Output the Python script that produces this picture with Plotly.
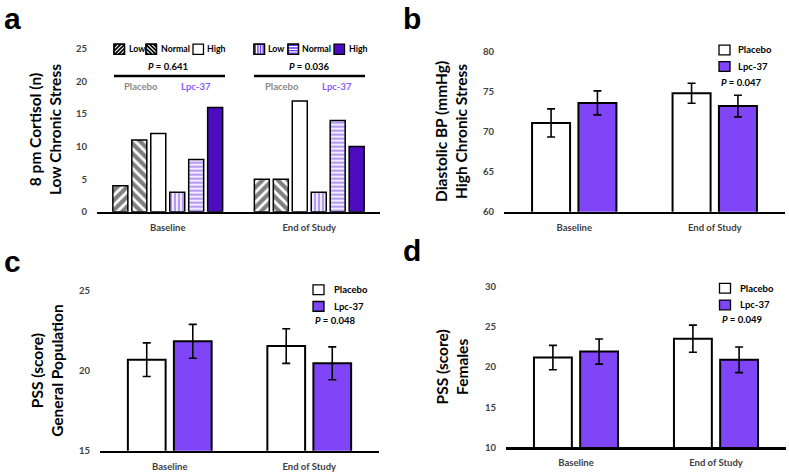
import plotly.graph_objects as go

W, H = 789, 475

categories = ["Baseline", "End of Study"]

# Panel a: 8 pm cortisol (n), low chronic stress
a_levels = ["Low", "Normal", "High"]
a_placebo_low = [4, 5]
a_placebo_normal = [11, 5]
a_placebo_high = [12, 17]
a_lpc_low = [3, 3]
a_lpc_normal = [8, 14]
a_lpc_high = [16, 10]
a_pvalues = ["0.641", "0.036"]
a_yticks = [0, 5, 10, 15, 20, 25]

# Panel b: diastolic BP (mmHg), high chronic stress
b_placebo = [71.1, 74.8]
b_placebo_err = [1.75, 1.25]
b_lpc = [73.6, 73.2]
b_lpc_err = [1.5, 1.35]
b_p = "0.047"
b_yticks = [60, 65, 70, 75, 80]

# Panel c: PSS (score), general population
c_placebo = [20.7, 21.55]
c_placebo_err = [1.05, 1.08]
c_lpc = [21.85, 20.47]
c_lpc_err = [1.06, 1.03]
c_p = "0.048"
c_yticks = [15, 20, 25]

# Panel d: PSS (score), females
d_placebo = [21.2, 23.55]
d_placebo_err = [1.52, 1.7]
d_lpc = [21.95, 20.92]
d_lpc_err = [1.57, 1.6]
d_p = "0.049"
d_yticks = [10, 15, 20, 25, 30]

FONT = "Lato"
PURPLE = "#7F45F7"
DARK_PURPLE = "#4B0DBF"
STRIPE = "#6A34EE"
TICK_COL = "#404040"


def px(x):
    return x / W


def py(y):
    return 1 - y / H


fig = go.Figure()

# ---------------- panel a bars ----------------
a_series = [
    ("Placebo Low", a_placebo_low, dict(color="white", pattern=dict(shape="/", fgcolor="black", bgcolor="white", size=7, solidity=0.6))),
    ("Placebo Normal", a_placebo_normal, dict(color="white", pattern=dict(shape="\\", fgcolor="black", bgcolor="white", size=7, solidity=0.6))),
    ("Placebo High", a_placebo_high, dict(color="white")),
    ("Lpc-37 Low", a_lpc_low, dict(color="white", pattern=dict(shape="|", fgcolor=STRIPE, bgcolor="white", size=4, solidity=0.6))),
    ("Lpc-37 Normal", a_lpc_normal, dict(color="white", pattern=dict(shape="-", fgcolor=STRIPE, bgcolor="white", size=4, solidity=0.6))),
    ("Lpc-37 High", a_lpc_high, dict(color=DARK_PURPLE)),
]
a_width = 0.106
a_step = 0.134
for i, (name, vals, mk) in enumerate(a_series):
    mk = dict(mk)
    mk["line"] = dict(color="black", width=1.5)
    fig.add_trace(go.Bar(
        x=categories, y=vals, name=name, marker=mk,
        width=a_width, offset=(i - 2.5) * a_step - a_width / 2,
        xaxis="x", yaxis="y", showlegend=False,
    ))

# ---------------- panels b, c, d ----------------
panels = [
    ("x2", "y2", b_placebo, b_placebo_err, b_lpc, b_lpc_err),
    ("x3", "y3", c_placebo, c_placebo_err, c_lpc, c_lpc_err),
    ("x4", "y4", d_placebo, d_placebo_err, d_lpc, d_lpc_err),
]
for xa, ya, pv, pe, lv, le in panels:
    fig.add_trace(go.Bar(
        x=categories, y=pv, name="Placebo", xaxis=xa, yaxis=ya, showlegend=False,
        marker=dict(color="white", line=dict(color="black", width=2)),
        error_y=dict(type="data", array=pe, color="black", thickness=1.6, width=4),
    ))
    fig.add_trace(go.Bar(
        x=categories, y=lv, name="Lpc-37", xaxis=xa, yaxis=ya, showlegend=False,
        marker=dict(color=PURPLE, line=dict(color="black", width=2)),
        error_y=dict(type="data", array=le, color="black", thickness=1.6, width=4),
    ))

# ---------------- axes ----------------
dom = {
    "a": ([97, 380], [43.7, 210.7], [0, 25], a_yticks),
    "b": ([504, 785], [46.7, 210.7], [60, 80], b_yticks),
    "c": ([100, 379], [291.7, 455.3], [15, 25], c_yticks),
    "d": ([506, 786], [287.7, 451.7], [10, 30], d_yticks),
}
tickfont = dict(family=FONT, size=9.5, color=TICK_COL, weight="bold")
layout_axes = {}
for k, (name, (xd, yd, yr, yt)) in enumerate(dom.items()):
    sfx = "" if k == 0 else str(k + 1)
    layout_axes["xaxis" + sfx] = dict(
        domain=[px(xd[0]), px(xd[1])], anchor="y" + sfx, type="category",
        range=[-0.5, 1.5], showline=True, linecolor="black", linewidth=2.5,
        ticks="", showgrid=False, zeroline=False, tickfont=tickfont,
        ticklabelstandoff=5, fixedrange=True,
    )
    layout_axes["yaxis" + sfx] = dict(
        domain=[py(yd[1]), py(yd[0])], anchor="x" + sfx, range=yr,
        tickvals=yt, showline=False, showgrid=False, zeroline=False,
        ticks="", tickfont=tickfont, ticklabelstandoff=9, fixedrange=True,
    )

annotations = []
shapes = []


def text(x, y, t, size=9.5, color="black", xanchor="center", weight="bold", family=FONT, angle=0):
    annotations.append(dict(
        x=px(x), y=py(y), xref="paper", yref="paper", text=t, showarrow=False,
        xanchor=xanchor, yanchor="middle", textangle=angle,
        font=dict(family=family, size=size, color=color, weight=weight),
    ))


# panel letters
for letter, x, y in [("a", 2, 13), ("b", 401, 13), ("c", 2, 262), ("d", 401, 250)]:
    text(x, y, letter, size=30, xanchor="left", family="Liberation Sans")

# y-axis titles
TS = 15.5
text(45, 127, "8 pm Cortisol (n)<br>Low Chronic Stress", size=TS, angle=-90)
text(451, 129, "Diastolic BP (mmHg)<br>High Chronic Stress", size=TS, angle=-90)
text(47, 373.5, "PSS (score)<br>General Population", size=TS, angle=-90)
text(452, 370, "PSS (score)<br>Females", size=TS, angle=-90)


# ---- legend swatches helpers ----
def rect(x0, y0, x1, y1, fill, line="black", lw=1.3):
    shapes.append(dict(type="rect", xref="paper", yref="paper",
                       x0=px(x0), x1=px(x1), y0=py(y1), y1=py(y0),
                       fillcolor=fill, line=dict(color=line, width=lw)))


def hatch(x0, y0, x1, y1, kind, color, lw, step):
    S = x1 - x0
    segs = []
    if kind in "/\\":
        c = -S + step / 2
        while c < S:
            if kind == "/":
                u0, u1 = max(0, -c), min(S, S - c)
                pts = [(u0, u0 + c), (u1, u1 + c)]
            else:
                cc = c + S
                u0, u1 = max(0, cc - S), min(S, cc)
                pts = [(u0, cc - u0), (u1, cc - u1)]
            segs.append(pts)
            c += step
    else:
        k = step / 2
        while k < S:
            if kind == "|":
                segs.append([(k, 0), (k, S)])
            else:
                segs.append([(0, k), (S, k)])
            k += step
    path = ""
    for (ua, va), (ub, vb) in segs:
        path += "M{:.5f},{:.5f}L{:.5f},{:.5f}".format(px(x0 + ua), py(y1 - va), px(x0 + ub), py(y1 - vb))
    shapes.append(dict(type="path", xref="paper", yref="paper", path=path,
                       line=dict(color=color, width=lw)))


# panel a legend rows
row_y0, row_y1 = 39, 49.5
groups_a = [
    ([114, 146, 193], [126.5, 158.5, 205], ["/", "\\", None], "black", ["white", "white", "white"]),
    ([254, 288, 334], [265.5, 299.5, 346.5], ["|", "-", None], STRIPE, ["white", "white", DARK_PURPLE]),
]
for sx, tx, kinds, hcol, fills in groups_a:
    for j in range(3):
        x0 = sx[j]
        x1 = x0 + 10.5
        rect(x0, row_y0, x1, row_y1, fills[j])
        if kinds[j]:
            step = 4 if kinds[j] in "/\\" else 2.6
            lw = 1.7 if kinds[j] in "/\\" else 1.3
            hatch(x0, row_y0, x1, row_y1, kinds[j], hcol, lw, step)
            rect(x0, row_y0, x1, row_y1, "rgba(0,0,0,0)")
        text(tx[j], 44, a_levels[j], size=8.8, xanchor="left")

# panel a P-values, bracket lines, group labels
for cx, x0, x1, pl, lc, p in [(168, 114, 225, 141, 195.5, a_pvalues[0]),
                              (309, 254, 365, 282, 337, a_pvalues[1])]:
    text(cx, 62, "<i>P</i> = " + p)
    shapes.append(dict(type="line", xref="paper", yref="paper",
                       x0=px(x0), x1=px(x1), y0=py(71.7), y1=py(71.7),
                       line=dict(color="black", width=2.5)))
    text(pl, 82, "Placebo", color="#8A8A8A")
    text(lc, 82, "Lpc-37", color="#8B5CF6")

# panels b/c/d legends
for sx, y1, y2, tx, pcx, pcy, p in [(719, 45, 62, 736, 741, 78, b_p),
                                    (313, 290.5, 307.5, 332, 334.5, 321.7, c_p),
                                    (719.5, 289, 306, 738, 741.7, 320.7, d_p)]:
    rect(sx, y1 - 5, sx + 11, y1 + 5, "white")
    rect(sx, y2 - 5, sx + 11, y2 + 5, PURPLE)
    text(tx, y1, "Placebo", xanchor="left")
    text(tx, y2, "Lpc-37", xanchor="left")
    text(pcx, pcy, "<i>P</i> = " + p)

fig.update_layout(
    width=W, height=H, margin=dict(l=0, r=0, t=0, b=0),
    paper_bgcolor="white", plot_bgcolor="white",
    barmode="group", bargap=0.34, bargroupgap=0.18,
    showlegend=False, annotations=annotations, shapes=shapes,
    font=dict(family=FONT),
    **layout_axes,
)

fig.write_html(
    "out.html",
    config={"displayModeBar": False, "staticPlot": True},
    post_script="document.body.style.margin='0';document.body.style.padding='0';"
                "document.documentElement.style.overflow='hidden';",
)
